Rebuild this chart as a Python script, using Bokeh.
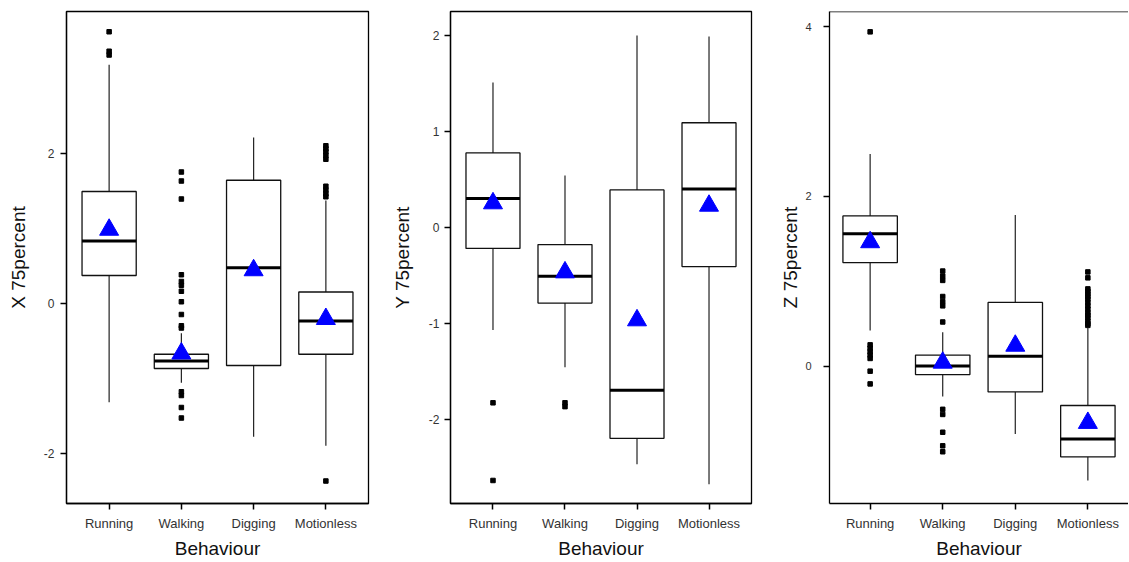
from bokeh.plotting import figure
from bokeh.layouts import row
from bokeh.models import FactorRange, Range1d, FixedTicker, ColumnDataSource, Span
from bokeh.transform import dodge
from bokeh.embed import file_html
from bokeh.resources import INLINE

behaviours = ["Running", "Walking", "Digging", "Motionless"]

# ---- X 75percent ----
x_lower = [-1.32, -1.06, -1.78, -1.90]
x_q1 = [0.37, -0.87, -0.83, -0.68]
x_median = [0.83, -0.77, 0.475, -0.235]
x_q3 = [1.49, -0.68, 1.64, 0.15]
x_upper = [3.18, -0.40, 2.21, 1.37]
x_mean = [0.98, -0.67, 0.44, -0.21]
x_out_running = [3.62, 3.36, 3.31]
x_out_walking = [1.75, 1.63, 1.39, 0.38, 0.29, 0.24, 0.16, 0.02, -0.15, -0.30, -0.33,
                 -1.18, -1.23, -1.39, -1.53]
x_out_digging = []
x_out_motionless = [2.10, 2.06, 2.02, 1.97, 1.92, 1.56, 1.51, 1.46, 1.42, -2.37]

# ---- Y 75percent ----
y_lower = [-1.07, -1.46, -2.47, -2.68]
y_q1 = [-0.22, -0.79, -2.20, -0.41]
y_median = [0.30, -0.51, -1.70, 0.40]
y_q3 = [0.775, -0.18, 0.39, 1.09]
y_upper = [1.51, 0.54, 2.00, 1.99]
y_mean = [0.25, -0.47, -0.97, 0.225]
y_out_running = [-1.83, -2.64]
y_out_walking = [-1.83, -1.87]
y_out_digging = []
y_out_motionless = []

# ---- Z 75percent ----
z_lower = [0.42, -0.36, -0.80, -1.35]
z_q1 = [1.22, -0.10, -0.305, -1.07]
z_median = [1.56, 0.00, 0.115, -0.86]
z_q3 = [1.77, 0.13, 0.75, -0.465]
z_upper = [2.50, 0.40, 1.78, 0.45]
z_mean = [1.46, 0.04, 0.24, -0.67]
z_out_running = [3.94, 0.25, 0.21, 0.17, 0.13, 0.09, -0.06, -0.21]
z_out_walking = [1.12, 1.06, 1.01, 0.82, 0.76, 0.71, 0.52, -0.51, -0.57, -0.78, -0.94, -1.01]
z_out_digging = []
z_out_motionless = [1.11, 1.04, 0.91, 0.88, 0.85, 0.82, 0.79, 0.75, 0.71, 0.67, 0.63,
                    0.60, 0.57, 0.53, 0.50, 0.48]

FONT = "Liberation Sans"


def panel(ylabel, lower, q1, med, q3, upper, mean, outs, y_start, y_end, ticks,
          border_left, frame_width, border_right, pad, ytick_size, ytick_standoff,
          ylabel_standoff, outline=True):
    p = figure(x_range=FactorRange(factors=behaviours, range_padding=pad),
               y_range=Range1d(y_start, y_end),
               frame_width=frame_width, frame_height=492,
               min_border_left=border_left, min_border_right=border_right,
               min_border_top=11, min_border_bottom=50,
               output_backend="svg", toolbar_location=None)
    p.xgrid.visible = False
    p.ygrid.visible = False
    p.background_fill_color = "white"
    p.border_fill_color = "white"
    if outline:
        p.outline_line_color = "black"
        p.outline_line_width = 1.3
    else:
        p.outline_line_color = None
        p.add_layout(Span(location=y_end, dimension="width", line_color="black",
                          line_width=1.3))

    src = ColumnDataSource(dict(cat=behaviours, lower=lower, q1=q1, med=med, q3=q3,
                                upper=upper, mean=mean))
    p.segment(x0="cat", y0="q3", x1="cat", y1="upper", source=src,
              line_color="#222222", line_width=1.2)
    p.segment(x0="cat", y0="q1", x1="cat", y1="lower", source=src,
              line_color="#222222", line_width=1.2)
    p.vbar(x="cat", top="q3", bottom="q1", width=0.75, source=src,
           fill_color="white", line_color="#111111", line_width=1.3)
    p.segment(x0=dodge("cat", -0.375, range=p.x_range), y0="med",
              x1=dodge("cat", 0.375, range=p.x_range), y1="med",
              source=src, line_color="black", line_width=3)

    oc, ov = [], []
    for cat, vals in zip(behaviours, outs):
        oc += [cat] * len(vals)
        ov += vals
    p.scatter(x=oc, y=ov, marker="square", size=4.5, fill_color="black",
              line_color="black")
    p.scatter(x="cat", y="mean", source=src, marker="triangle", size=19,
              fill_color="#0000ff", line_color="#0000ff")

    for ax in (p.xaxis[0], p.yaxis[0]):
        ax.axis_line_color = "black"
        ax.axis_line_width = 1.3
        ax.major_tick_line_color = "black"
        ax.major_tick_line_width = 1.5
        ax.major_tick_in = 0
        ax.major_tick_out = 6
        ax.minor_tick_line_color = None
        ax.major_label_text_font = FONT
        ax.major_label_text_color = "#333333"
        ax.axis_label_text_font = FONT
        ax.axis_label_text_font_style = "normal"
        ax.axis_label_text_color = "#111111"
        ax.axis_label_text_font_size = "19px"

    p.xaxis.axis_label = "Behaviour"
    p.xaxis.major_label_text_font_size = "13px"
    p.xaxis.major_label_standoff = 6
    p.xaxis.axis_label_standoff = 4

    p.yaxis.axis_label = ylabel
    p.yaxis.ticker = FixedTicker(ticks=ticks)
    p.yaxis.major_label_overrides = {t: str(t) for t in ticks}
    p.yaxis.major_label_text_font_size = ytick_size
    p.yaxis.major_label_standoff = ytick_standoff
    p.yaxis.axis_label_standoff = ylabel_standoff
    return p


p1 = panel("X 75percent", x_lower, x_q1, x_median, x_q3, x_upper, x_mean,
           [x_out_running, x_out_walking, x_out_digging, x_out_motionless],
           -2.67, 3.89, [-2, 0, 2], 66, 302, 18, 0.045, "12px", 6, 12)
p2 = panel("Y 75percent", y_lower, y_q1, y_median, y_q3, y_upper, y_mean,
           [y_out_running, y_out_walking, y_out_digging, y_out_motionless],
           -2.88, 2.25, [-2, -1, 0, 1, 2], 64, 301, 14, 0.045, "12px", 5, 13)
p3 = panel("Z 75percent", z_lower, z_q1, z_median, z_q3, z_upper, z_mean,
           [z_out_running, z_out_walking, z_out_digging, z_out_motionless],
           -1.62, 4.18, [0, 2, 4], 64, 299, 0, 0.03, "11px", 12, 1, outline=False)

layout = row(p1, p2, p3)
open("out.html", "w").write(file_html(layout, INLINE))
